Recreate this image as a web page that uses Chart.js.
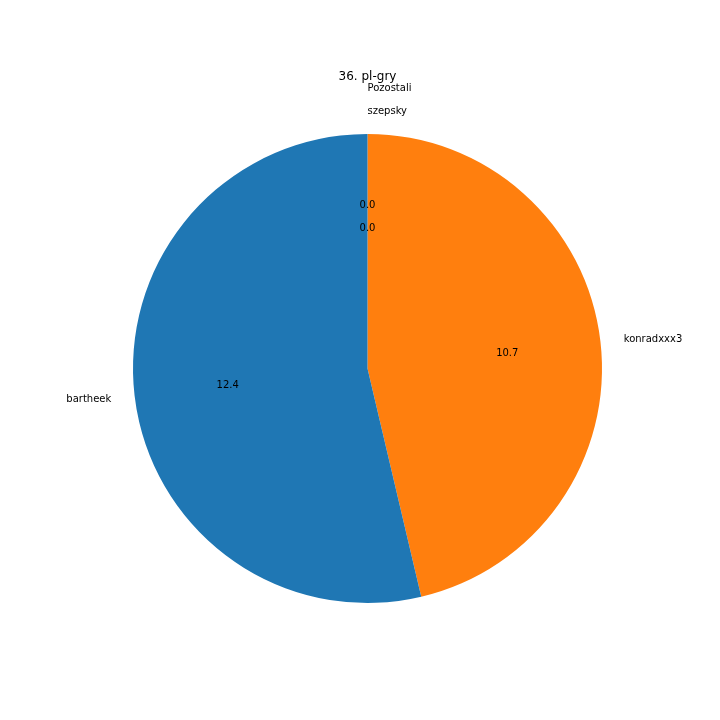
<!DOCTYPE html>
<html>
<head>
<meta charset="utf-8">
<script src="https://cdn.jsdelivr.net/npm/chart.js@4"></script>
<style>
  html, body { margin: 0; padding: 0; background: #fff; }
  #wrap { width: 720px; height: 720px; }
</style>
</head>
<body>
<div id="wrap"><canvas id="pieChart" width="720" height="720"></canvas></div>
<script>
const title = '36. pl-gry';

// matplotlib order (counter-clockwise from the top)
const players = ['bartheek', 'konradxxx3', 'szepsky', 'Pozostali'];
const scores = [12.4, 10.7, 0.0, 0.0];
const colors = ['#1f77b4', '#ff7f0e', '#2ca02c', '#d62728'];

// label / value text distances (fraction of the radius)
const labelDist = [1.1, 1.1, 1.1, 1.2];
const pctDist = [0.6, 0.6, 0.6, 0.7];

// chart.js goes clockwise, so flip everything
const rev = a => a.slice().reverse();

const pieLabels = {
  id: 'pieLabels',
  afterDraw(chart) {
    const ctx = chart.ctx;
    const meta = chart.getDatasetMeta(0);
    const n = meta.data.length;
    ctx.save();
    ctx.fillStyle = '#000';
    ctx.font = '10px "DejaVu Sans"';
    ctx.textBaseline = 'middle';
    meta.data.forEach((arc, i) => {
      const k = n - 1 - i; // index in the original arrays
      const mid = (arc.startAngle + arc.endAngle) / 2;
      const r = arc.outerRadius;
      const c = Math.cos(mid), s = Math.sin(mid);

      const lx = arc.x + c * r * labelDist[k];
      const ly = arc.y + s * r * labelDist[k] + 1;
      ctx.textAlign = lx >= arc.x - 0.001 ? 'left' : 'right';
      ctx.fillText(players[k], lx, ly);

      ctx.textAlign = 'center';
      ctx.fillText(scores[k].toFixed(1), arc.x + c * r * pctDist[k], arc.y + s * r * pctDist[k] + 1);
    });
    ctx.restore();
  }
};

const ctx = document.getElementById('pieChart').getContext('2d');
new Chart(ctx, {
  type: 'pie',
  data: {
    labels: rev(players),
    datasets: [{
      data: rev(scores),
      backgroundColor: rev(colors),
      borderWidth: 0,
      hoverOffset: 0,
    }],
  },
  options: {
    responsive: false,
    animation: false,
    events: [],
    layout: { padding: { left: 133, right: 118, top: 0, bottom: 117 } },
    plugins: {
      legend: { display: false },
      tooltip: { enabled: false },
      title: {
        display: true,
        text: title,
        color: '#000',
        font: { family: 'DejaVu Sans', size: 12, weight: 'normal', lineHeight: 1.2 },
        padding: { top: 70, bottom: 49.6 },
      },
    },
  },
  plugins: [pieLabels],
});
</script>
</body>
</html>
